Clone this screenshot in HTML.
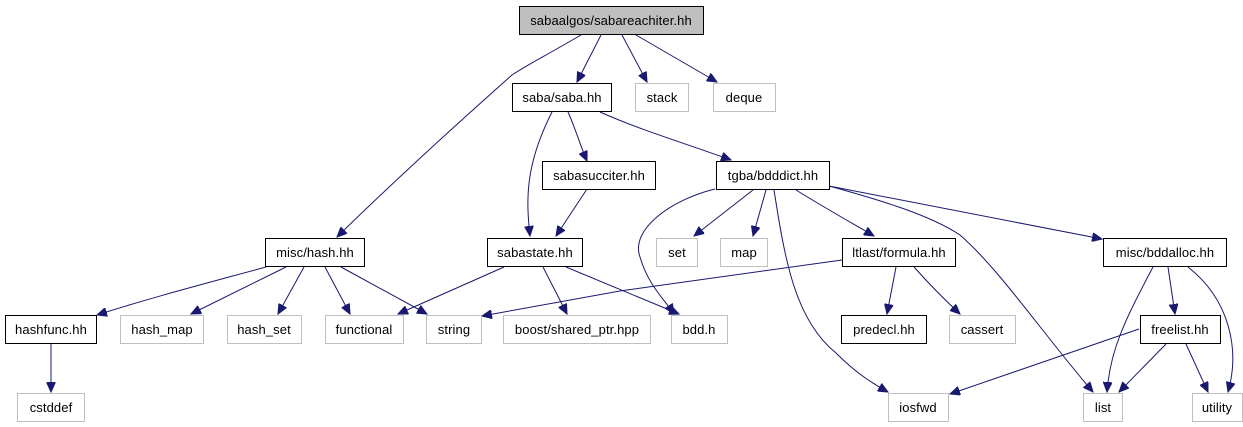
<!DOCTYPE html>
<html><head><meta charset="utf-8"><style>
html,body{margin:0;padding:0;background:#fff;}
svg{display:block;}
text{font-family:"Liberation Sans",Helvetica,sans-serif;font-size:13px;fill:#000;letter-spacing:0.1px;}
</style></head><body>
<svg width="1243" height="427" viewBox="0 0 1243 427" xmlns="http://www.w3.org/2000/svg">
<defs>
<marker id="a" markerUnits="userSpaceOnUse" markerWidth="11" markerHeight="9" refX="10" refY="4.5" orient="auto">
<path d="M0,0 L10,4.5 L0,9 z" fill="#191970" stroke="#191970"/>
</marker>
</defs>
<g fill="none" stroke="#191970" stroke-width="1" marker-end="url(#a)">
<path d="M581,35 C545,56 525,66 512,75 C450,130 385,190 337,237"/>
<path d="M601,35 L577,82"/>
<path d="M622,35 L647,82"/>
<path d="M636,35 L717,82"/>
<path d="M552,112 C525,165 526,200 530,236"/>
<path d="M568,112 C576,130 580,145 587,161"/>
<path d="M600,112 C640,130 690,145 731,160"/>
<path d="M587,189 L556,236"/>
<path d="M266,267 C200,285 150,298 97,315"/>
<path d="M286,267 L191,314"/>
<path d="M304,267 L278,314"/>
<path d="M325,267 L350,314"/>
<path d="M341,267 L427,314"/>
<path d="M504,267 L398,314"/>
<path d="M543,267 L567,314"/>
<path d="M566,267 L679,314"/>
<path d="M715,189 C670,200 630,230 640,257 C648,285 665,300 674,314"/>
<path d="M753,190 L694,236"/>
<path d="M766,190 L753,236"/>
<path d="M774,190 C785,260 795,320 836,353 C855,372 870,382 888,392"/>
<path d="M796,190 C820,205 850,222 874,236"/>
<path d="M829,186 C880,200 930,215 960,235 C1000,270 1040,330 1093,392"/>
<path d="M829,186 L1102,239"/>
<path d="M842,260 L620,291 L482,316"/>
<path d="M896,267 L887,314"/>
<path d="M914,267 C930,285 945,300 960,314"/>
<path d="M1153,267 C1125,320 1110,350 1107,392"/>
<path d="M1168,267 L1175,314"/>
<path d="M1188,267 C1230,300 1240,350 1228,392"/>
<path d="M1139,329 L950,394"/>
<path d="M1166,344 L1119,392"/>
<path d="M1186,344 L1208,392"/>
<path d="M51,344 L51,392"/>
</g>
<g stroke-width="1">
<rect x="519.5" y="6.5" width="184" height="28" fill="#bfbfbf" stroke="#000"/>
<rect x="512.5" y="83.5" width="99" height="28" fill="#fff" stroke="#000"/>
<rect x="635.5" y="83.5" width="53" height="28" fill="#fff" stroke="#bfbfbf"/>
<rect x="713.5" y="83.5" width="62" height="28" fill="#fff" stroke="#bfbfbf"/>
<rect x="542.5" y="161.5" width="113" height="28" fill="#fff" stroke="#000"/>
<rect x="716.5" y="161.5" width="113" height="28" fill="#fff" stroke="#000"/>
<rect x="265.5" y="238.5" width="99" height="28" fill="#fff" stroke="#000"/>
<rect x="487.5" y="238.5" width="95" height="28" fill="#fff" stroke="#000"/>
<rect x="656.5" y="238.5" width="41" height="28" fill="#fff" stroke="#bfbfbf"/>
<rect x="720.5" y="238.5" width="47" height="28" fill="#fff" stroke="#bfbfbf"/>
<rect x="842.5" y="238.5" width="113" height="28" fill="#fff" stroke="#000"/>
<rect x="1103.5" y="238.5" width="123" height="28" fill="#fff" stroke="#000"/>
<rect x="5.5" y="315.5" width="91" height="28" fill="#fff" stroke="#000"/>
<rect x="120.5" y="315.5" width="83" height="28" fill="#fff" stroke="#bfbfbf"/>
<rect x="227.5" y="315.5" width="74" height="28" fill="#fff" stroke="#bfbfbf"/>
<rect x="325.5" y="315.5" width="78" height="28" fill="#fff" stroke="#bfbfbf"/>
<rect x="426.5" y="315.5" width="55" height="28" fill="#fff" stroke="#bfbfbf"/>
<rect x="503.5" y="315.5" width="147" height="28" fill="#fff" stroke="#bfbfbf"/>
<rect x="671.5" y="315.5" width="56" height="28" fill="#fff" stroke="#bfbfbf"/>
<rect x="841.5" y="315.5" width="85" height="28" fill="#fff" stroke="#000"/>
<rect x="949.5" y="315.5" width="66" height="28" fill="#fff" stroke="#bfbfbf"/>
<rect x="1140.5" y="315.5" width="80" height="28" fill="#fff" stroke="#000"/>
<rect x="17.5" y="393.5" width="67" height="28" fill="#fff" stroke="#bfbfbf"/>
<rect x="888.5" y="393.5" width="60" height="28" fill="#fff" stroke="#bfbfbf"/>
<rect x="1083.5" y="393.5" width="39" height="28" fill="#fff" stroke="#bfbfbf"/>
<rect x="1192.5" y="393.5" width="50" height="28" fill="#fff" stroke="#bfbfbf"/>
</g>
<g text-anchor="middle">
<text x="611" y="25">sabaalgos/sabareachiter.hh</text>
<text x="562" y="102">saba/saba.hh</text>
<text x="662" y="102">stack</text>
<text x="744" y="102">deque</text>
<text x="599" y="180">sabasucciter.hh</text>
<text x="773" y="180">tgba/bdddict.hh</text>
<text x="315" y="257">misc/hash.hh</text>
<text x="535" y="257">sabastate.hh</text>
<text x="677" y="257">set</text>
<text x="744" y="257">map</text>
<text x="899" y="257">ltlast/formula.hh</text>
<text x="1165" y="257">misc/bddalloc.hh</text>
<text x="51" y="334">hashfunc.hh</text>
<text x="162" y="334">hash_map</text>
<text x="264" y="334">hash_set</text>
<text x="364" y="334">functional</text>
<text x="454" y="334">string</text>
<text x="577" y="334">boost/shared_ptr.hpp</text>
<text x="699" y="334">bdd.h</text>
<text x="884" y="334">predecl.hh</text>
<text x="982" y="334">cassert</text>
<text x="1180" y="334">freelist.hh</text>
<text x="51" y="412">cstddef</text>
<text x="918" y="412">iosfwd</text>
<text x="1103" y="412">list</text>
<text x="1217" y="412">utility</text>
</g>
</svg>
</body></html>
